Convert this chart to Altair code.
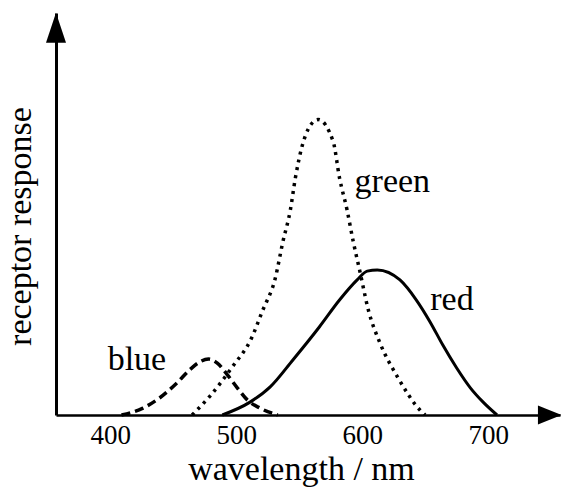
import altair as alt
import pandas as pd

# ---- data ----
green_wl = [465, 480, 497, 512, 521, 531, 537, 543, 547, 552, 557, 565, 577, 582, 588, 593, 598, 605, 614, 628, 646, 650]
green_val = [0.0, 0.05, 0.12, 0.19, 0.26, 0.34, 0.43, 0.51, 0.59, 0.665, 0.71, 0.735, 0.68, 0.59, 0.51, 0.43, 0.36, 0.26, 0.18, 0.095, 0.012, 0.0]

red_wl = [489, 511, 527, 545, 566, 582, 596, 604, 612, 630, 643, 654, 664, 675, 686, 696, 707]
red_val = [0.0, 0.032, 0.07, 0.137, 0.219, 0.286, 0.336, 0.358, 0.361, 0.336, 0.286, 0.231, 0.174, 0.117, 0.067, 0.032, 0.0]

blue_wl = [409, 426, 439, 453, 463, 471, 478, 485, 493, 501, 509, 519, 533]
blue_val = [0.0, 0.017, 0.042, 0.08, 0.112, 0.132, 0.139, 0.129, 0.1, 0.067, 0.037, 0.017, 0.0]

label_text = ["green", "red", "blue"]
label_wl = [594, 654, 398]
label_val = [0.555, 0.261, 0.112]

x_ticks = [400, 500, 600, 700]
x_domain = [357, 757]
y_domain = [0, 1]

FONT = "Liberation Serif"

green = pd.DataFrame({"wl": green_wl, "v": green_val})
red = pd.DataFrame({"wl": red_wl, "v": red_val})
blue = pd.DataFrame({"wl": blue_wl, "v": blue_val})
labels = pd.DataFrame({"t": label_text, "wl": label_wl, "v": label_val})
arrows_y = pd.DataFrame({"wl": [x_domain[0]], "v": [0.963]})
arrows_x = pd.DataFrame({"wl": [749], "v": [0.0]})

xscale = alt.Scale(domain=x_domain, nice=False, zero=False)
yscale = alt.Scale(domain=y_domain, nice=False)

xaxis = alt.Axis(
    values=x_ticks, grid=False, ticks=False, tickSize=0,
    labelFont=FONT, labelFontSize=27, labelColor="black",
    labelBaseline="alphabetic", labelPadding=28,
    domainColor="black", domainWidth=2.5,
    title="wavelength / nm", titleFont=FONT, titleFontSize=34,
    titleFontWeight="normal", titleColor="black",
    titleX=245, titleY=64, titleAlign="center", titleBaseline="alphabetic",
)
yaxis = alt.Axis(
    labels=False, grid=False, ticks=False, tickSize=0,
    domainColor="black", domainWidth=3,
    title="receptor response", titleFont=FONT, titleFontSize=34,
    titleFontWeight="normal", titleColor="black",
    titleAngle=270, titleX=-26, titleY=213, titleAlign="center",
    titleBaseline="alphabetic",
)

X = alt.X("wl:Q", scale=xscale, axis=xaxis)
Y = alt.Y("v:Q", scale=yscale, axis=yaxis)

green_line = alt.Chart(green).mark_line(
    color="black", strokeWidth=3.5, strokeDash=[3, 5], interpolate="monotone"
).encode(x=X, y=Y)
red_line = alt.Chart(red).mark_line(
    color="black", strokeWidth=3, interpolate="monotone"
).encode(x="wl:Q", y="v:Q")
blue_line = alt.Chart(blue).mark_line(
    color="black", strokeWidth=3.5, strokeDash=[9, 5], interpolate="monotone"
).encode(x="wl:Q", y="v:Q")

text = alt.Chart(labels).mark_text(
    font=FONT, fontSize=34, color="black", align="left", baseline="alphabetic"
).encode(x="wl:Q", y="v:Q", text="t:N")

arrow_up = alt.Chart(arrows_y).mark_point(
    shape="M0,-1L0.667,1L-0.667,1Z", size=900, filled=True, color="black", opacity=1
).encode(x="wl:Q", y="v:Q")
arrow_right = alt.Chart(arrows_x).mark_point(
    shape="M1,0L-1,0.8L-1,-0.8Z", size=576, filled=True, color="black", opacity=1
).encode(x="wl:Q", y="v:Q")

chart = alt.layer(
    green_line, red_line, blue_line, text, arrow_up, arrow_right
).properties(
    width=504, height=402,
    autosize=alt.AutoSizeParams(type="none"),
    padding={"left": 56, "top": 13, "right": 1, "bottom": 72},
    background="white",
).configure_view(stroke=None)

chart.save("out.html", embed_options={"renderer": "svg", "actions": False})
